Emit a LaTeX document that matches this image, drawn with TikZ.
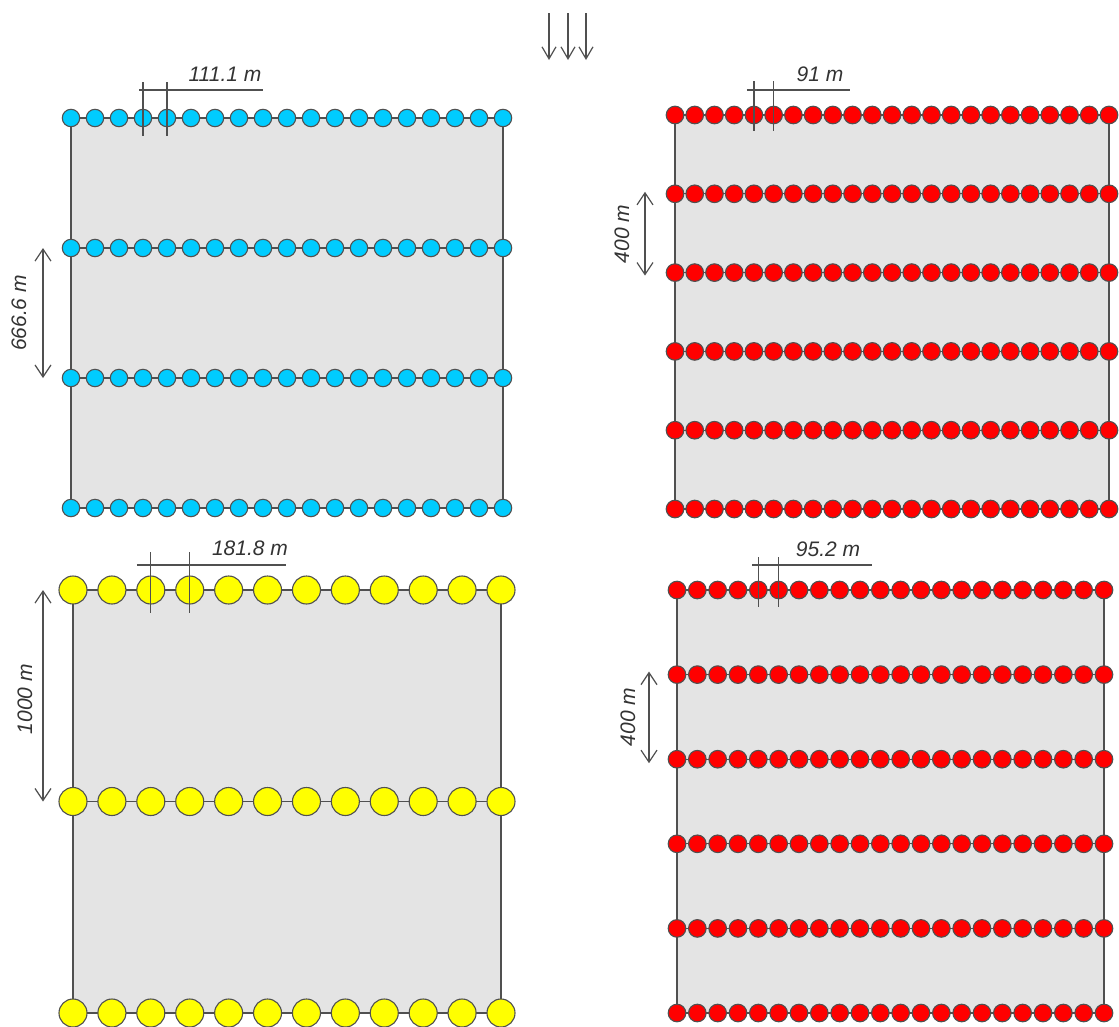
\documentclass[tikz,border=0pt]{standalone}
\usepackage{fontspec}
\setmainfont{Liberation Sans}
\usetikzlibrary{arrows.meta}
\definecolor{dotcyan}{RGB}{0,204,255}
\definecolor{dotred}{RGB}{255,0,0}
\definecolor{dotyellow}{RGB}{255,255,0}
\definecolor{panelgray}{RGB}{228,228,228}
\definecolor{linegray}{RGB}{80,80,80}
\definecolor{textgray}{RGB}{51,51,51}
\tikzset{
  panelfill/.style={fill=panelgray},
  edge/.style={draw=linegray, line width=1.3pt},
  dot/.style={circle, draw=linegray, line width=1.1pt, inner sep=0pt},
  dimline/.style={draw=linegray, line width=1.2pt},
  dimarrow/.style={draw=linegray, line width=1.2pt, {Straight Barb[length=12pt,width=16pt]}-{Straight Barb[length=12pt,width=16pt]}},
  downarrow/.style={draw=linegray, line width=1.2pt, -{Straight Barb[length=12pt,width=14pt]}},
  lbl/.style={text=textgray, font=\fontsize{21}{24}\selectfont\itshape, inner sep=0pt},
}
\newcommand\drawpanel[9]{%
  \fill[panelfill] (#2,#4) rectangle (#3,#5);
  \draw[edge] (#2,#4) -- (#2,#5) (#3,#4) -- (#3,#5);
  \pgfmathsetmacro\pdx{(#3-#2)/(#7-1)}
  \pgfmathsetmacro\pdy{(#5-#4)/(#6-1)}
  \foreach \i in {1,...,#6} {
    \pgfmathsetmacro\yy{#4+(\i-1)*\pdy}
    \draw[edge] (#2,\yy) -- (#3,\yy);
    \foreach \j in {1,...,#7} {
      \node[dot, minimum size=2*#8, fill=#9] (#1-\i-\j) at ({#2+(\j-1)*\pdx},\yy) {};
    }
  }
}
\begin{document}
\begin{tikzpicture}[x=1pt,y=-1pt]
\useasboundingbox (0,0) rectangle (1119,1026);
\fill[white] (0,0) rectangle (1119,1026);

% panels
\drawpanel{tl}{71}{503}{118}{508}{4}{19}{8.7}{dotcyan}
\drawpanel{tr}{675}{1109}{115}{509}{6}{23}{8.8}{dotred}
\drawpanel{bl}{73}{501}{590}{1013}{3}{12}{14}{dotyellow}
\drawpanel{br}{677}{1104}{590}{1013}{6}{22}{8.8}{dotred}

% top arrows
\foreach \k/\xx in {1/549,2/568,3/586} {
  \coordinate (a\k s) at (\xx,13);
  \coordinate (a\k e) at (\xx,60);
  \draw[downarrow] (a\k s) -- (a\k e);
}

% horizontal dimensions
\draw[dimline] ([yshift=36pt]tl-1-4.center) -- ([yshift=-18pt]tl-1-4.center);
\draw[dimline] ([yshift=36pt]tl-1-5.center) -- ([yshift=-18pt]tl-1-5.center);
\draw[dimline] ([shift={(-4pt,28pt)}]tl-1-4.center) -- ([shift={(96pt,28pt)}]tl-1-5.center);
\node[lbl] (ltl) at (225,74) {111.1 m};

\draw[dimline] ([yshift=34pt]tr-1-5.center) -- ([yshift=-16pt]tr-1-5.center);
\draw[dimline] ([yshift=34pt]tr-1-6.center) -- ([yshift=-16pt]tr-1-6.center);
\draw[dimline] ([shift={(-7pt,25pt)}]tr-1-5.center) -- ([shift={(76pt,25pt)}]tr-1-6.center);
\node[lbl] (ltr) at (820,74) {91 m};

\draw[dimline] ([yshift=38pt]bl-1-3.center) -- ([yshift=-23pt]bl-1-3.center);
\draw[dimline] ([yshift=38pt]bl-1-4.center) -- ([yshift=-23pt]bl-1-4.center);
\draw[dimline] ([shift={(-14pt,25pt)}]bl-1-3.center) -- ([shift={(96pt,25pt)}]bl-1-4.center);
\node[lbl] (lbl) at (250,548) {181.8 m};

\draw[dimline] ([yshift=33pt]br-1-5.center) -- ([yshift=-17pt]br-1-5.center);
\draw[dimline] ([yshift=33pt]br-1-6.center) -- ([yshift=-17pt]br-1-6.center);
\draw[dimline] ([shift={(-6pt,25pt)}]br-1-5.center) -- ([shift={(93pt,25pt)}]br-1-6.center);
\node[lbl] (lbr) at (828,549) {95.2 m};

% vertical dimensions
\coordinate (xtl) at (43,0);
\draw[dimarrow] (tl-2-1.center -| xtl) -- (tl-3-1.center -| xtl);
\node[lbl, rotate=90] (vtl) at (19,313) {666.6 m};

\coordinate (xtr) at (645,0);
\draw[dimarrow] ([yshift=2pt]tr-2-1.center -| xtr) -- ([yshift=-3pt]tr-3-1.center -| xtr);
\node[lbl, rotate=90] (vtr) at (622,234) {400 m};

\coordinate (xbl) at (43,0);
\draw[dimarrow] (bl-1-1.center -| xbl) -- (bl-2-1.center -| xbl);
\node[lbl, rotate=90] (vbl) at (25,699) {1000 m};

\coordinate (xbr) at (649,0);
\draw[dimarrow] ([yshift=3pt]br-2-1.center -| xbr) -- ([yshift=-4pt]br-3-1.center -| xbr);
\node[lbl, rotate=90] (vbr) at (628,717) {400 m};
\end{tikzpicture}
\end{document}
